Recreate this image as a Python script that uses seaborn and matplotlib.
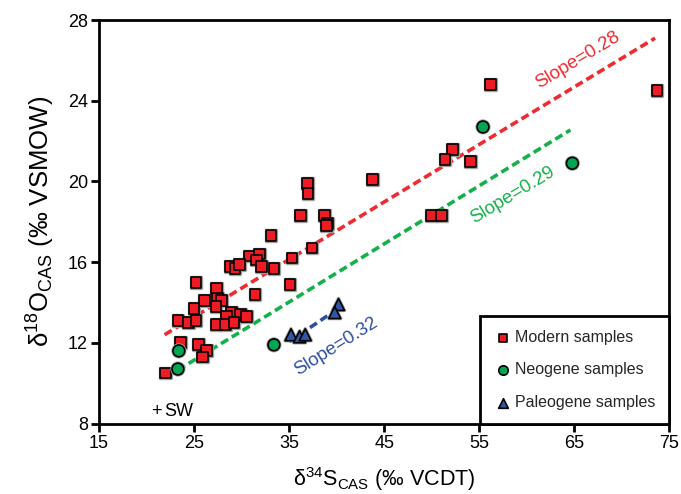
import matplotlib
matplotlib.use("Agg")
import matplotlib.pyplot as plt
import matplotlib.patheffects as pe
import seaborn as sns
import pandas as pd

# ---------------- data ----------------
modern_x = [36.9, 37.0, 36.2, 38.7, 39.0, 38.9, 33.1, 37.4, 35.3, 33.4,
            30.8, 31.9, 31.6, 32.1, 28.8, 29.3, 29.8, 25.2, 27.4, 27.5,
            27.9, 26.1, 25.0, 27.3, 31.4, 35.1, 23.3, 24.4, 25.2, 28.9,
            29.9, 28.4, 30.5, 27.3, 28.3, 29.2, 23.6, 25.5, 26.3, 25.9,
            22.0, 56.2, 73.7, 52.2, 51.4, 54.1, 43.8, 50.0, 51.0]
modern_y = [19.9, 19.4, 18.3, 18.3, 17.9, 17.8, 17.3, 16.7, 16.2, 15.7,
            16.3, 16.4, 16.1, 15.8, 15.8, 15.7, 15.9, 15.0, 14.7, 14.2,
            14.1, 14.1, 13.7, 13.8, 14.4, 14.9, 13.1, 13.0, 13.1, 13.5,
            13.4, 13.3, 13.3, 12.9, 12.9, 13.0, 12.0, 11.9, 11.6, 11.3,
            10.5, 24.8, 24.5, 21.6, 21.1, 21.0, 20.1, 18.3, 18.3]
neogene_x = [23.4, 23.3, 33.4, 55.4, 64.8]
neogene_y = [11.6, 10.7, 11.9, 22.7, 20.9]
paleogene_x = [40.2, 39.8, 35.2, 36.1, 36.7]
paleogene_y = [13.9, 13.5, 12.4, 12.3, 12.4]

groups = ["Modern samples", "Neogene samples", "Paleogene samples"]

# fitted trend lines (end points)
red_line_x = [21.9, 73.5]
red_line_y = [12.4, 27.1]
green_line_x = [23.3, 64.6]
green_line_y = [10.65, 22.55]
blue_line_x = [35.0, 40.0]
blue_line_y = [12.05, 13.65]

slope_labels = ["Slope=0.28", "Slope=0.29", "Slope=0.32"]
sw_x, sw_y = 21.0, 8.6

x_ticks = [15, 25, 35, 45, 55, 65, 75]
y_ticks = [8, 12, 16, 20, 24, 28]

# ---------------- style ----------------
sns.set_theme(style="white")
plt.rcParams["font.family"] = ["Liberation Sans", "DejaVu Sans"]
plt.rcParams["mathtext.fontset"] = "custom"
plt.rcParams["mathtext.rm"] = "Liberation Sans"
plt.rcParams["mathtext.default"] = "regular"

RED = "#ED1C24"
GREEN = "#00A651"
BLUE = "#2E57A8"
RED_L = "#EE2B32"
GREEN_L = "#14B04A"
BLUE_L = "#2F4FA2"

df = pd.DataFrame({
    "x": modern_x + neogene_x + paleogene_x,
    "y": modern_y + neogene_y + paleogene_y,
    "group": [groups[0]] * len(modern_x) + [groups[1]] * len(neogene_x)
             + [groups[2]] * len(paleogene_x),
})

fig = plt.figure(figsize=(6.81, 4.94), dpi=100)
ax = fig.add_axes([0.1454, 0.1427, 0.8374, 0.8168])

lw = 2.6
for lx, ly, c in [(red_line_x, red_line_y, RED_L),
                  (green_line_x, green_line_y, GREEN_L),
                  (blue_line_x, blue_line_y, BLUE_L)]:
    sns.lineplot(x=lx, y=ly, ax=ax, color=c, lw=lw, zorder=2)
    ax.lines[-1].set_dashes((2.3, 1.2))

palette = {groups[0]: RED, groups[1]: GREEN, groups[2]: BLUE}
markers = {groups[0]: "s", groups[1]: "o", groups[2]: "^"}
sizes = {groups[0]: 60, groups[1]: 72, groups[2]: 75}

for g in groups:
    sub = df[df["group"] == g]
    sns.scatterplot(data=sub, x="x", y="y", ax=ax, color=palette[g],
                    marker=markers[g], s=sizes[g], edgecolor="black",
                    linewidth=1.2, zorder=3, legend=False, label=g)
    ax.collections[-1].set_path_effects(
        [pe.Stroke(linewidth=2.4, foreground="#a0a0a0"), pe.Normal()])

# slope annotations
ax.text(65.4, 26.0, slope_labels[0], color=RED_L, fontsize=13.5, rotation=31,
        ha="center", va="center", rotation_mode="anchor")
ax.text(58.5, 19.3, slope_labels[1], color=GREEN_L, fontsize=13.5, rotation=31,
        ha="center", va="center", rotation_mode="anchor")
ax.text(39.9, 11.8, slope_labels[2], color=BLUE_L, fontsize=13.5, rotation=32,
        ha="center", va="center", rotation_mode="anchor")
ax.text(sw_x, sw_y, "+", color="black", fontsize=13, ha="center", va="center")
ax.text(sw_x + 0.9, sw_y, "SW", color="black", fontsize=13, ha="left", va="center")

ax.set_xlim(15, 75)
ax.set_ylim(8, 28)
ax.set_xticks(x_ticks)
ax.set_yticks(y_ticks)
ax.tick_params(axis="both", direction="out", length=6, width=2,
               labelsize=13, color="black", labelcolor="black", pad=2,
               bottom=True, left=True)
for sp in ax.spines.values():
    sp.set_color("black")
    sp.set_linewidth(2)

ax.set_xlabel(r"δ$^{34}$S$_{CAS}$ (‰ VCDT)", fontsize=15.5, color="black", labelpad=10)
ax.set_ylabel(r"δ$^{18}$O$_{CAS}$ (‰ VSMOW)", fontsize=18.5, color="black", labelpad=8)

leg = ax.legend(loc="lower right", bbox_to_anchor=(1.0, 0.0), borderaxespad=0,
                frameon=True, fancybox=False, fontsize=11.5, markerscale=0.8,
                handlelength=1.1, handletextpad=0.25, labelspacing=1.1,
                borderpad=0.85)
leg.get_frame().set_edgecolor("black")
leg.get_frame().set_linewidth(2)
leg.get_frame().set_alpha(1)
for h in leg.legend_handles:
    h.set_path_effects([])

fig.savefig("out.png", dpi=100)
